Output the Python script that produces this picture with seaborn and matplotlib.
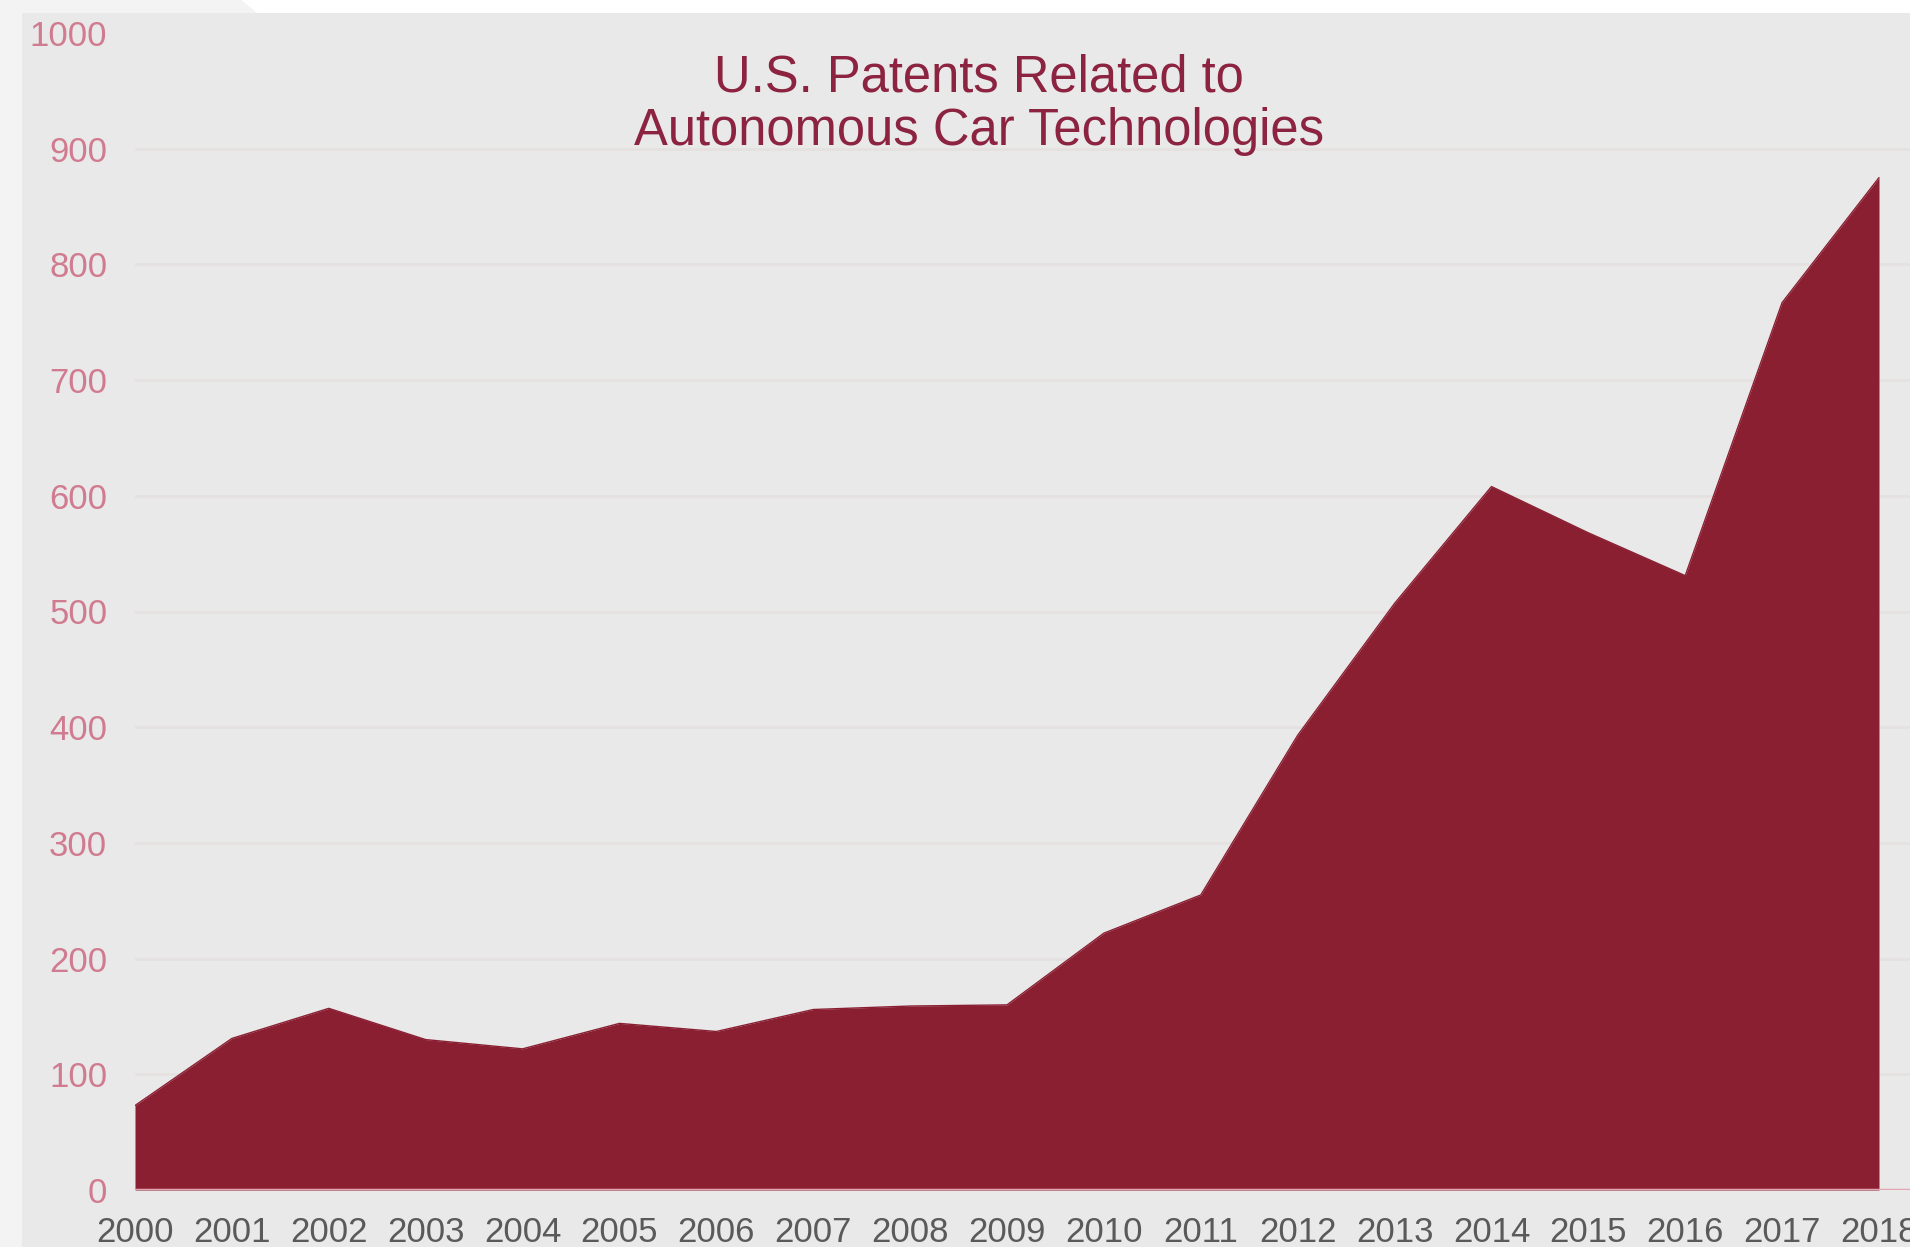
import matplotlib
matplotlib.use("Agg")
import matplotlib.pyplot as plt
import seaborn as sns
import pandas as pd
from matplotlib.patches import Polygon, Rectangle

years = [2000, 2001, 2002, 2003, 2004, 2005, 2006, 2007, 2008, 2009,
         2010, 2011, 2012, 2013, 2014, 2015, 2016, 2017, 2018]
patents = [73, 131, 157, 130, 122, 144, 137, 156, 159, 160,
           222, 255, 393, 507, 608, 568, 531, 767, 875]
y_ticks = [0, 100, 200, 300, 400, 500, 600, 700, 800, 900, 1000]
title_lines = ["U.S. Patents Related to", "Autonomous Car Technologies"]

df = pd.DataFrame({"year": years, "patents": patents})

sns.set_theme(style="white")
plt.rcParams["font.family"] = ["Liberation Sans", "DejaVu Sans"]

W, H = 1910, 1247
fig = plt.figure(figsize=(W / 100, H / 100), dpi=100)
panel = "#e9e9e9"
fig.patch.set_facecolor(panel)

# decorative frame: light left strip and white top strip
fig.patches.append(Rectangle((0, 0), 22 / W, 1, transform=fig.transFigure,
                             facecolor="#f3f3f3", edgecolor="none", zorder=0))
fig.patches.append(Polygon([(0, 1), (241 / W, 1), (257 / W, 1 - 13 / H), (0, 1 - 13 / H)],
                           closed=True, transform=fig.transFigure,
                           facecolor="#f3f3f3", edgecolor="none", zorder=0))
fig.patches.append(Polygon([(241 / W, 1), (1, 1), (1, 1 - 13 / H), (257 / W, 1 - 13 / H)],
                           closed=True, transform=fig.transFigure,
                           facecolor="white", edgecolor="none", zorder=0))

ax = fig.add_axes([135 / W, 57 / H, (W - 135) / W, (1214 - 57) / H])
ax.set_facecolor(panel)

ax.fill_between(df["year"], 0, df["patents"], color="#8a1f32", linewidth=0, zorder=3)
sns.lineplot(data=df, x="year", y="patents", ax=ax, color="#8a1f32",
             linewidth=1.0, zorder=4)
ax.axhline(0, color="#e4a6b3", linewidth=2.5, zorder=5)

ax.set_xlim(2000, 2018 + 31 / 96.9)
ax.set_ylim(0, 1000)
ax.set_xticks(years)
ax.set_xticklabels([str(y) for y in years])
ax.set_yticks(y_ticks)
ax.set_yticklabels([str(v) for v in y_ticks])

for v in y_ticks[1:-1]:
    ax.axhline(v, color="#e5e1e1", linewidth=2, zorder=1)

for s in ax.spines.values():
    s.set_visible(False)
ax.tick_params(axis="y", length=0, pad=20, labelsize=25, labelcolor="#d07b8f")
ax.tick_params(axis="x", length=0, pad=19, labelsize=25, labelcolor="#5a5a5a")
ax.set_xlabel("")
ax.set_ylabel("")
ax.grid(False)

fig.text(979 / W, 1 - 78 / H, title_lines[0], ha="center", va="center",
         fontsize=36.5, color="#8c2340")
fig.text(979 / W, 1 - 132 / H, title_lines[1], ha="center", va="center",
         fontsize=36.5, color="#8c2340")

fig.savefig("out.png", dpi=100, facecolor=fig.get_facecolor())
